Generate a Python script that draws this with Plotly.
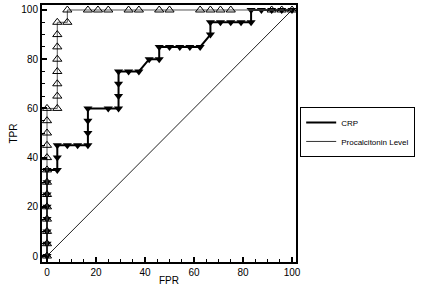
import plotly.graph_objects as go

# Procalcitonin Level ROC points (FPR %, TPR %)
pct_fpr = [0, 0, 0, 0, 0, 0, 0, 0, 0, 0, 0, 0, 0,
           4.2, 4.2, 4.2, 4.2, 4.2, 4.2, 4.2, 4.2,
           8.3, 8.3, 16.7, 20.8, 25.0, 33.3, 37.5, 45.8, 50.0,
           62.5, 66.7, 70.8, 75.0, 91.7, 95.8, 100]
pct_tpr = [0, 5, 10, 15, 20, 25, 30, 35, 40, 45, 50, 55, 60,
           60, 65, 70, 75, 80, 85, 90, 95,
           95, 100, 100, 100, 100, 100, 100, 100, 100,
           100, 100, 100, 100, 100, 100, 100]

# CRP ROC points (FPR %, TPR %)
crp_fpr = [0, 0, 0, 0, 0, 0, 0, 0,
           4.2, 4.2, 4.2, 8.3, 12.5, 16.7, 16.7, 16.7, 16.7,
           25.0, 29.2, 29.2, 29.2, 29.2, 33.3, 37.5,
           41.7, 45.8, 45.8, 50.0, 54.2, 58.3, 62.5,
           66.7, 66.7, 70.8, 75.0, 79.2, 83.3,
           83.3, 87.5, 91.7, 95.8, 100]
crp_tpr = [0, 5, 10, 15, 20, 25, 30, 35,
           35, 40, 45, 45, 45, 45, 50, 55, 60,
           60, 60, 65, 70, 75, 75, 75,
           80, 80, 85, 85, 85, 85, 85,
           90, 95, 95, 95, 95, 95,
           100, 100, 100, 100, 100]

diag = [0, 100]

FONT = "Liberation Sans, Arial, sans-serif"

fig = go.Figure()

fig.add_trace(go.Scatter(x=diag, y=diag, mode="lines",
                         line=dict(color="#222222", width=1),
                         showlegend=False, hoverinfo="skip"))

fig.add_trace(go.Scatter(x=crp_fpr, y=crp_tpr, mode="lines+markers",
                         line=dict(color="black", width=2),
                         marker=dict(symbol="triangle-down", size=8, color="black"),
                         showlegend=False))

fig.add_trace(go.Scatter(x=pct_fpr, y=pct_tpr, mode="lines+markers",
                         line=dict(color="#555555", width=1),
                         marker=dict(symbol="triangle-up-open", size=8, color="black",
                                     line=dict(width=1, color="black")),
                         showlegend=False))

# legend entries (lines only)
fig.add_trace(go.Scatter(x=[None], y=[None], mode="lines", name="CRP",
                         line=dict(color="black", width=2)))
fig.add_trace(go.Scatter(x=[None], y=[None], mode="lines", name="Procalcitonin Level",
                         line=dict(color="#333333", width=1)))

axis_common = dict(
    showgrid=False, zeroline=False, automargin=False,
    showline=True, linecolor="black", linewidth=2, mirror=True,
    ticks="inside", ticklen=5, tickwidth=2, tickcolor="black",
    tick0=0, dtick=20,
    minor=dict(dtick=5, ticks="inside", ticklen=3, tickwidth=1, tickcolor="black"),
    tickfont=dict(family=FONT, size=10, color="black"),
)

fig.update_xaxes(range=[-2.04, 101.63],
                 title=dict(text="FPR", font=dict(family=FONT, size=10, color="black"), standoff=0),
                 **axis_common)
fig.update_yaxes(range=[-2.44, 102.03],
                 title=dict(text="TPR", font=dict(family=FONT, size=10, color="black"), standoff=2),
                 **axis_common)

fig.update_layout(
    width=424, height=293, autosize=False,
    margin=dict(l=42, r=128, t=5, b=31, autoexpand=False),
    paper_bgcolor="white", plot_bgcolor="white",
    font=dict(family=FONT, size=9, color="black"),
    hovermode=False,
    legend=dict(xref="container", yref="container",
                x=0.708, y=0.635, xanchor="left", yanchor="top",
                bordercolor="black", borderwidth=1, bgcolor="white",
                font=dict(family=FONT, size=8, color="black"),
                itemwidth=30, tracegroupgap=0, itemclick=False, itemdoubleclick=False),
)

fig.write_html("out.html", config={"displayModeBar": False},
               post_script="document.body.style.margin='0';")
